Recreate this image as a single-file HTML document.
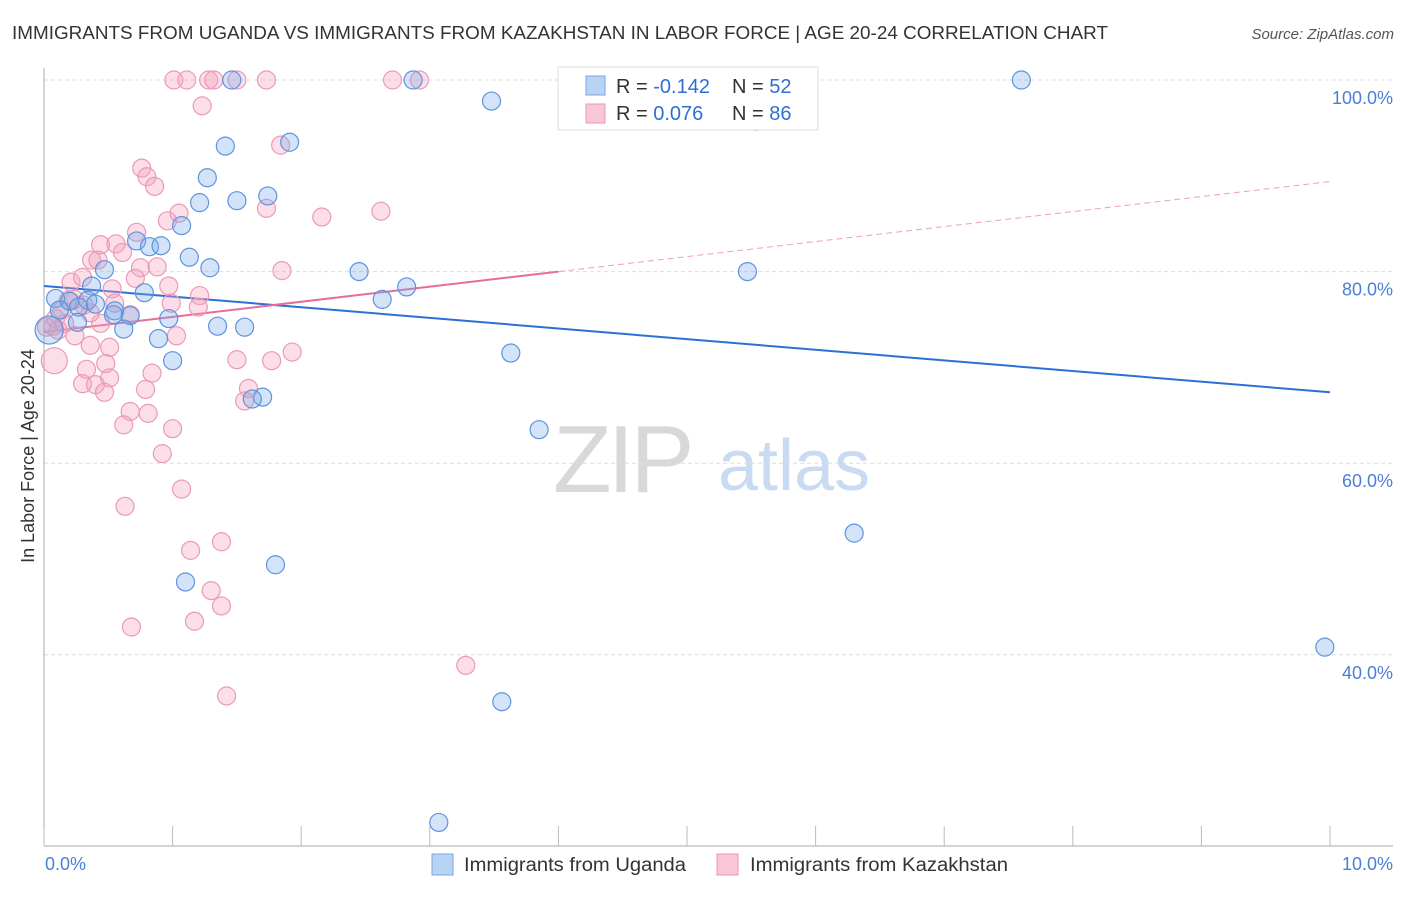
<!DOCTYPE html>
<html><head><meta charset="utf-8">
<style>
body{margin:0;background:#fff;font-family:"Liberation Sans",sans-serif;}
svg text{font-family:"Liberation Sans",sans-serif;}
</style></head>
<body>
<svg id="chart" width="1406" height="892" xmlns="http://www.w3.org/2000/svg">
<text x="12" y="39" font-size="18" fill="#333" textLength="1096" lengthAdjust="spacingAndGlyphs">IMMIGRANTS FROM UGANDA VS IMMIGRANTS FROM KAZAKHSTAN IN LABOR FORCE | AGE 20-24 CORRELATION CHART</text>
<text x="1394" y="39" font-size="15" fill="#555" font-style="italic" text-anchor="end">Source: ZipAtlas.com</text>
<g>
<text x="553" y="492" font-size="96" fill="#d8d8d8" font-family="Liberation Serif" letter-spacing="-4">ZIP</text>
<text x="718" y="490" font-size="72" fill="#c9dbf2">atlas</text>
</g>
<g id="grid"></g>
<g id="axes"></g>
<g id="lines"></g>
<g id="points"></g>
<text transform="translate(34,456) rotate(-90)" font-size="18" fill="#333" text-anchor="middle">In Labor Force | Age 20-24</text>
<g>
<rect x="558" y="67" width="260" height="63" fill="#fff" stroke="#ddd"/>
<rect x="586" y="76" width="19" height="19" fill="#b9d3f4" stroke="#7aa6e6"/>
<text x="616" y="93" font-size="20" fill="#333">R = <tspan fill="#2f6fd4">-0.142</tspan></text>
<text x="732" y="93" font-size="20" fill="#333">N = <tspan fill="#2f6fd4">52</tspan></text>
<rect x="586" y="104" width="19" height="19" fill="#f9c6d6" stroke="#ec95b3"/>
<text x="616" y="120" font-size="20" fill="#333">R = <tspan fill="#2f6fd4"> 0.076</tspan></text>
<text x="732" y="120" font-size="20" fill="#333">N = <tspan fill="#2f6fd4">86</tspan></text>
</g>
<g>
<rect x="432" y="854" width="21" height="21" fill="#b9d3f4" stroke="#7aa6e6"/>
<text x="464" y="871" font-size="19" fill="#333" textLength="222" lengthAdjust="spacingAndGlyphs">Immigrants from Uganda</text>
<rect x="717" y="854" width="21" height="21" fill="#f9c6d6" stroke="#ec95b3"/>
<text x="750" y="871" font-size="19" fill="#333" textLength="258" lengthAdjust="spacingAndGlyphs">Immigrants from Kazakhstan</text>
</g>
</svg>
<script>
const yTicks=[40,60,80,100];
const yTickLabels=["40.0%","60.0%","80.0%","100.0%"];
const xTicks=[0,1,2,3,4,5,6,7,8,9,10];
const ugandaX=[1.46,2.87,5.01,7.60,3.48,5.54,1.91,1.41,1.27,1.50,1.74,1.21,1.07,0.72,0.82,0.91,1.13,0.47,1.29,2.45,5.47,0.37,0.78,2.82,2.63,0.09,0.20,0.34,0.27,0.55,0.67,0.97,1.35,1.56,0.62,0.89,1.00,3.63,3.85,1.70,1.62,6.30,1.10,1.80,9.96,3.56,3.07,0.04,0.12,0.26,0.54,0.40];
const ugandaY=[100,100,100,100,97.8,95.7,93.5,93.1,89.8,87.4,87.9,87.2,84.8,83.2,82.6,82.7,81.5,80.2,80.4,80.0,80.0,78.5,77.8,78.4,77.1,77.2,76.9,77.0,76.3,75.9,75.4,75.1,74.3,74.2,74.0,73.0,70.7,71.5,63.5,66.9,66.7,52.7,47.6,49.4,40.8,35.1,22.5,73.9,76.0,74.7,75.5,76.6];
const kazX=[1.01,1.11,1.28,1.32,1.50,1.73,2.71,2.92,1.23,1.84,0.76,0.80,0.86,1.73,2.16,2.62,0.96,1.05,0.72,0.44,0.56,0.61,0.37,0.42,0.75,0.71,0.88,1.85,0.21,0.30,0.53,0.97,1.21,1.20,0.99,1.03,0.24,0.36,0.51,0.48,0.33,0.51,0.30,0.40,0.47,0.84,0.79,0.67,0.81,0.62,1.00,0.92,1.50,1.77,1.93,1.59,1.56,0.08,0.44,0.02,0.07,1.07,0.63,1.14,1.38,1.30,1.38,1.17,0.68,1.42,3.28,0.19,0.24,0.14,0.31,0.36,0.09,0.16,0.67,0.55,0.11];
const kazY=[100,100,100,100,100,100,100,100,97.3,93.2,90.8,89.9,88.9,86.6,85.7,86.3,85.3,86.1,84.1,82.8,82.9,82.0,81.2,81.2,80.4,79.3,80.5,80.1,78.9,79.4,78.2,78.5,77.5,76.3,76.7,73.3,73.3,72.3,72.1,70.4,69.8,68.9,68.3,68.2,67.4,69.4,67.7,65.4,65.2,64.0,63.6,61.0,70.8,70.7,71.6,67.8,66.5,70.7,74.6,74.2,74.3,57.3,55.5,50.9,51.8,46.7,45.1,43.5,42.9,35.7,38.9,77.0,77.1,76.0,76.5,75.7,75.1,74.6,75.5,76.7,73.9];
const ugandaTrend=[78.5,67.4];
const kazTrend=[73.7,80.0,89.4];
const kazTrendSolidEnd=4;
const NS="http://www.w3.org/2000/svg";
const X=v=>44+v*128.6, Y=v=>80+(100-v)*9.58;
function mk(tag,attrs,parent){const e=document.createElementNS(NS,tag);for(const k in attrs)e.setAttribute(k,attrs[k]);parent.appendChild(e);return e;}
const grid=document.getElementById('grid'),axes=document.getElementById('axes'),lines=document.getElementById('lines'),pts=document.getElementById('points');
yTicks.forEach((t,i)=>{
 const l=mk('line',{x1:44,x2:1393,y1:Y(t),y2:Y(t),stroke:'#ddd','stroke-dasharray':'4,3'},grid);
 
 
 const tx=mk('text',{x:1393,y:Y(t)+24,'font-size':18,fill:'#4a7fd6','text-anchor':'end'},axes);
 tx.textContent=yTickLabels[i];
 
 
});
const ya=mk('line',{x1:44,x2:44,y1:68,y2:846,stroke:'#aaa'},axes);


const xa=mk('line',{x1:44,x2:1393,y1:846,y2:846,stroke:'#aaa'},axes);


xTicks.forEach(t=>{
 const l=mk('line',{x1:X(t),x2:X(t),y1:826,y2:846,stroke:'#bbb'},axes);
 
 
});
[[0,"0.0%","start",45],[10,"10.0%","end",1393]].forEach(a=>{
 const tx=mk('text',{x:a[3],y:870,'font-size':18,fill:'#4a7fd6','text-anchor':a[2]},axes);
 tx.textContent=a[1];
 
 
});
function dot(x,y,fill,stroke,name,r){
 const c=mk('circle',{cx:X(x),cy:Y(y),r:r,fill:fill,stroke:stroke,'stroke-width':1.2},pts);
 
 
}
kazX.forEach((x,i)=>dot(x,kazY[i],'rgba(244,160,190,0.35)','#eb9ab6','point-kazakhstan',(i==57)?13:9));
ugandaX.forEach((x,i)=>dot(x,ugandaY[i],'rgba(120,170,235,0.33)','#5f93de','point-uganda',(i==47)?14:9));
const bl=mk('line',{x1:X(0),y1:Y(ugandaTrend[0]),x2:X(10),y2:Y(ugandaTrend[1]),stroke:'#2c6fd6','stroke-width':2},lines);


const pl=mk('line',{x1:X(0),y1:Y(kazTrend[0]),x2:X(kazTrendSolidEnd),y2:Y(kazTrend[1]),stroke:'#e66d97','stroke-width':2},lines);


const pd=mk('line',{x1:X(kazTrendSolidEnd),y1:Y(kazTrend[1]),x2:X(10),y2:Y(kazTrend[2]),stroke:'#eca0ba','stroke-width':1,'stroke-dasharray':'6,4'},lines);


</script>
</body></html>
